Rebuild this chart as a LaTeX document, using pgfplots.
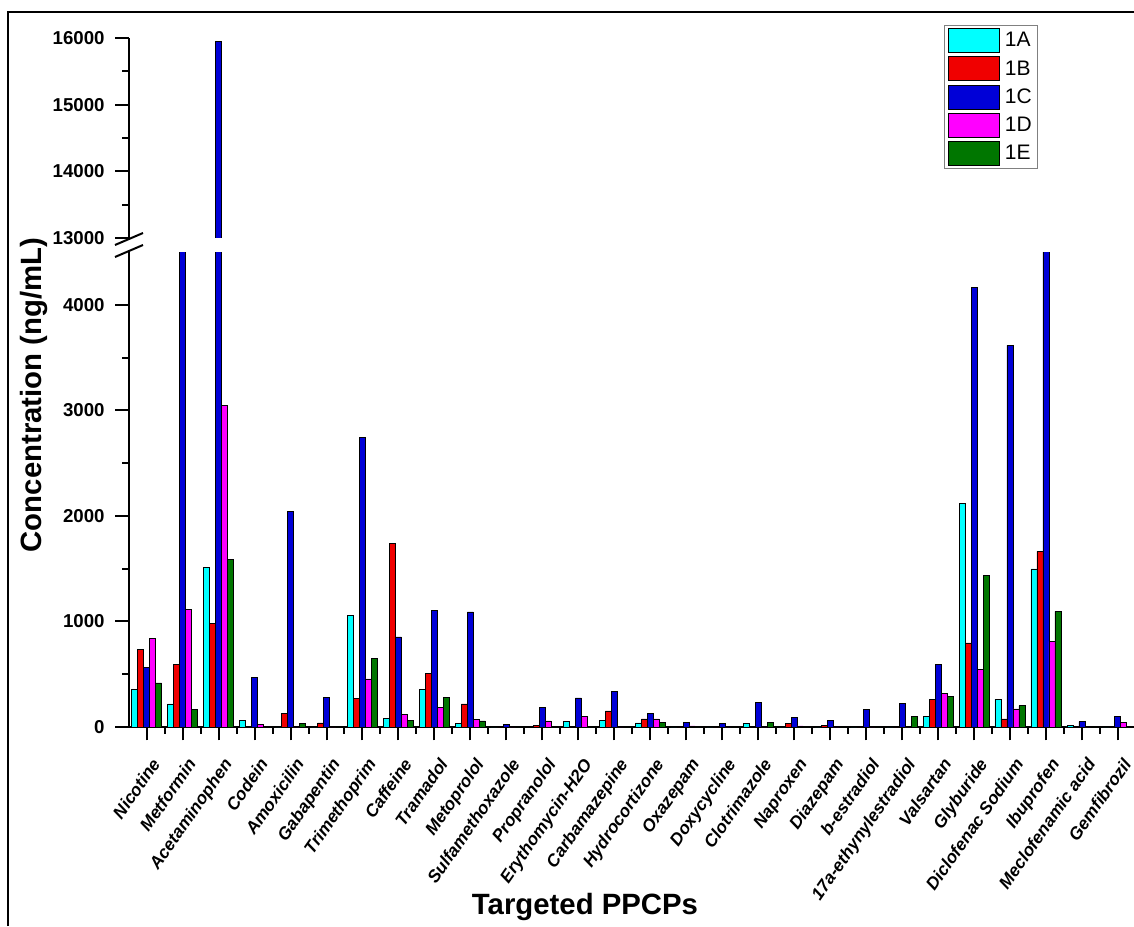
\documentclass[border=0pt]{standalone}
\usepackage{fontspec}
\setmainfont{Liberation Sans}
\usepackage{pgfplots}
\pgfplotsset{compat=1.18}
\usepackage{pgfplotstable}

\definecolor{cA}{RGB}{0,255,255}
\definecolor{cB}{RGB}{240,0,0}
\definecolor{cC}{RGB}{0,0,215}
\definecolor{cD}{RGB}{255,0,255}
\definecolor{cE}{RGB}{0,118,0}

\pgfplotstableread{
x A B C D E
0 357 739 568 837 417
1 218 591 8000 1112 167
2 1510 979 15950 3047 1585
3 63 0 467 25 0
4 0 130 2040 0 30
5 0 38 284 0 0
6 1061 268 2741 455 651
7 85 1740 853 120 63
8 354 505 1102 189 281
9 32 218 1090 69 57
10 0 0 20 0 0
11 5 15 183 57 0
12 50 0 275 101 0
13 63 152 341 0 0
14 38 76 126 76 47
15 0 0 41 10 0
16 0 0 30 0 0
17 30 0 234 0 41
18 0 30 88 10 0
19 0 16 60 0 0
20 0 0 164 0 0
21 0 0 221 0 101
22 101 259 594 322 291
23 2122 796 4165 549 1440
24 265 76 3616 171 202
25 1497 1664 9000 812 1096
26 13 0 51 0 0
27 0 0 104 41 0
}\data

% the only bar that reaches the upper (broken) part of the axis
\pgfplotstableread{
x C
2 15950
}\upper

\pgfplotsset{
  common/.style={
    scale only axis, width=755.4pt, xmin=-0.5, xmax=27.5,
    ybar=0pt, bar width=4.5pt,
    axis lines*=left, tick align=outside,
    axis line style={line width=1.5pt},
    major tick length=10pt, minor tick length=5pt,
    every tick/.style={black, line width=1.5pt},
    tick label style={font=\fontsize{14}{14}\selectfont\bfseries},
    yticklabel style={xshift=-4.5pt},
    scaled y ticks=false,
    /pgf/number format/1000 sep={},
    /pgf/number format/assume math mode=true,
  },
  legsw/.style={legend image code/.code={\draw[fill=#1, draw=black, line width=0.75pt] (0pt,-9pt) rectangle (38pt,9pt);}},
  barA/.style={fill=cA, draw=black, line width=0.6pt, legsw=cA},
  barB/.style={fill=cB, draw=black, line width=0.6pt, legsw=cB},
  barC/.style={fill=cC, draw=black, line width=0.6pt, legsw=cC},
  barD/.style={fill=cD, draw=black, line width=0.6pt, legsw=cD},
  barE/.style={fill=cE, draw=black, line width=0.6pt, legsw=cE},
}

\begin{document}
\begin{tikzpicture}
\useasboundingbox (0,0) rectangle (850.5pt,694.5pt);
% frame
\draw[line width=1pt] (6pt,0pt) -- (6pt,685.5pt) -- (851pt,685.5pt);

% lower axis
\begin{axis}[common,
  at={(96.5pt,149.25pt)}, anchor=south west,
  height=356.25pt, ymin=0, ymax=4500,
  ytick={0,1000,2000,3000,4000}, minor y tick num=1,
  xtick={0,...,27}, minor x tick num=1,
  xticklabels={Nicotine,Metformin,Acetaminophen,Codein,Amoxicilin,Gabapentin,Trimethoprim,Caffeine,Tramadol,Metoprolol,Sulfamethoxazole,Propranolol,Erythomycin-H2O,Carbamazepine,Hydrocortizone,Oxazepam,Doxycycline,Clotrimazole,Naproxen,Diazepam,b-estradiol,17a-ethynylestradiol,Valsartan,Glyburide,Diclofenac Sodium,Ibuprofen,Meclofenamic acid,Gemfibrozil},
  xticklabel style={rotate=55, anchor=north east, yshift=-6pt, xshift=-5pt, font=\fontsize{13}{13}\selectfont\bfseries\itshape},
]
\addplot[barA] table[x=x,y=A]{\data};
\addplot[barB] table[x=x,y=B]{\data};
\addplot[barC] table[x=x,y=C]{\data};
\addplot[barD] table[x=x,y=D]{\data};
\addplot[barE] table[x=x,y=E]{\data};
\end{axis}

% upper axis
\begin{axis}[common,
  at={(96.5pt,516pt)}, anchor=south west,
  height=150pt, ymin=13000, ymax=16000,
  ytick={13000,14000,15000,16000}, minor y tick num=1,
  axis x line=none,
  legend style={at={(0.8095,1.065)}, anchor=north west, draw=gray, line width=0.75pt,
    font=\fontsize{15.75}{15.75}\selectfont, nodes={inner sep=1.5pt}, row sep=2.4pt,
    column sep=2pt, cells={anchor=west}},
]
\addlegendimage{barA}
\addlegendimage{barB}
\addplot[barC, bar shift=0pt] table[x=x,y=C]{\upper};
\addlegendimage{barD}
\addlegendimage{barE}
\legend{1A,1B,1C,1D,1E}
\end{axis}

% axis break marks
\draw[line width=1.5pt] (86.25pt,510.75pt) -- (107.25pt,519.75pt);
\draw[line width=1.5pt] (86.25pt,501.75pt) -- (107.25pt,510.75pt);

\node[rotate=90, font=\fontsize{22}{22}\selectfont\bfseries] at (25.5pt,398.25pt) {Concentration (ng/mL)};
\node[font=\fontsize{22}{22}\selectfont\bfseries] at (438.75pt,14pt) {Targeted PPCPs};
\end{tikzpicture}
\end{document}
